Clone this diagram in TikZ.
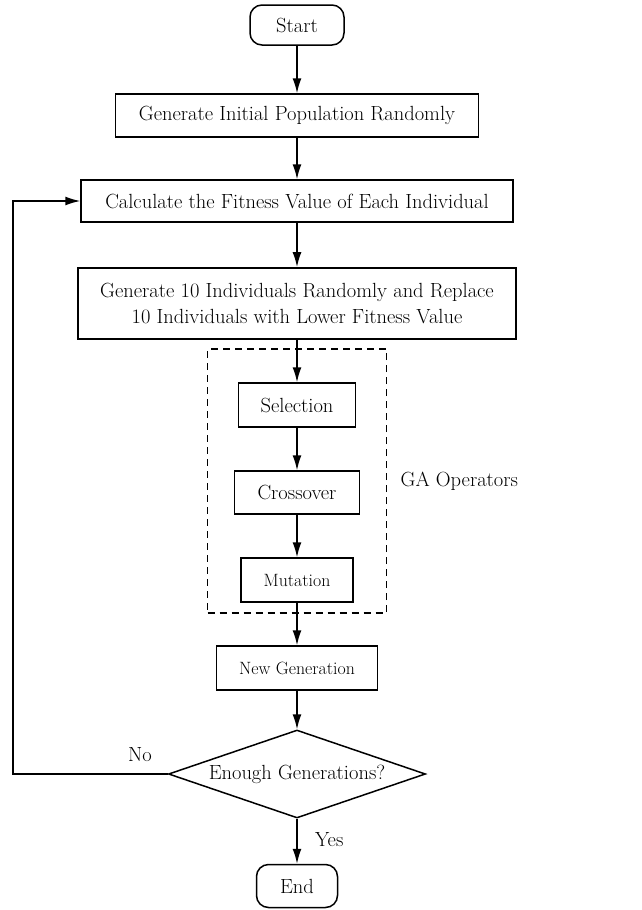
\documentclass[tikz,border=0pt]{standalone}
\usepackage{tikz}
\usetikzlibrary{arrows.meta,shapes.geometric,positioning}
\tikzset{%
  flowbox/.style={draw, line width=1.5pt, inner sep=0pt, align=center},
  termbox/.style={flowbox, rounded corners=12pt},
  testbox/.style={draw, line width=1.5pt, diamond, aspect=2.9, inner sep=0pt,
    minimum width=257pt, minimum height=88pt},
  opsbox/.style={draw, line width=1.2pt, dash pattern=on 7pt off 5pt,
    minimum width=179pt, minimum height=264pt},
  small/.style={font=\fontsize{17.8}{22}\selectfont},
  flow/.style={line width=1.5pt, -{Latex[length=15pt,width=9pt]}}
}

\begin{document}
\begin{tikzpicture}[x=1pt,y=-1pt,font=\fontsize{20.5}{26}\selectfont]
\useasboundingbox (0,0) rectangle (642,910);

\node[termbox, minimum width=94pt, minimum height=40pt] (start) at (297,25) {Start};
\node[flowbox, minimum width=363pt, minimum height=43pt] (init) at (297,115.5)
  {Generate Initial Population Randomly};
\node[flowbox, minimum width=432pt, minimum height=42pt] (fit) at (297,201)
  {Calculate the Fitness Value of Each Individual};
\node[flowbox, line width=1.8pt, minimum width=438pt, minimum height=71pt] (repl) at (297,303.5)
  {Generate 10 Individuals Randomly and Replace\\10 Individuals with Lower Fitness Value};

% GA operators
\node[opsbox] (ops) at (297,481) {};
\node[right=10pt of ops.east] (opslabel) {GA Operators};
\node[flowbox, minimum width=117pt, minimum height=44pt] (sel) at (297,405) {Selection};
\node[flowbox, minimum width=125pt, minimum height=43pt] (cross) at (297,492.5) {Crossover};
\node[flowbox, small, minimum width=112pt, minimum height=44pt] (mut) at (297,580) {Mutation};

\node[flowbox, small, minimum width=161pt, minimum height=44pt] (newgen) at (297,668) {New Generation};
\node[testbox] (dec) at (297,774) {Enough Generations?};
\node[termbox, minimum width=81pt, minimum height=43pt] (stop) at (297,886) {End};

\coordinate (loop) at (13,0);

\draw[flow] (start) -- (init);
\draw[flow] (init) -- (fit);
\draw[flow] (fit) -- (repl);
\draw[flow] (repl) -- (sel);
\draw[flow] (sel) -- (cross);
\draw[flow] (cross) -- (mut);
\draw[flow] (mut) -- (newgen);
\draw[flow] (newgen) -- (dec);
\draw[flow] (dec) -- node[right=14pt, yshift=2pt] (yes) {Yes} (stop);
\draw[flow] (dec.west) -- node[above=8pt, pos=0.18] (no) {No} (dec.west -| loop)
  |- (fit.west);

\end{tikzpicture}
\end{document}
